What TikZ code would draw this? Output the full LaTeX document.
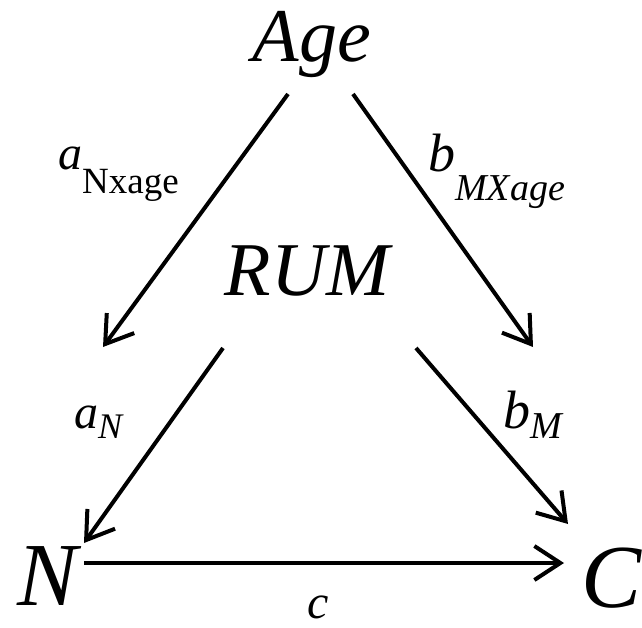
\documentclass[tikz,border=0pt]{standalone}
\usepackage{fontspec}
\newfontfamily\fa{Liberation Serif}
\usetikzlibrary{arrows.meta}
\begin{document}
\begin{tikzpicture}[x=1pt,y=-1pt,
  conn/.style={line width=4pt,-{Straight Barb[length=26pt,width=34pt,line width=4pt]}},
  txt/.style={inner sep=0pt,anchor=base},
  lab/.style={inner sep=0pt,anchor=base west}]
\useasboundingbox (0,0) rectangle (642,628);
% main nodes
\node[txt] (age) at (312,62) {\fontsize{76pt}{76pt}\selectfont\fa\itshape Age};
\node[txt] (rum) at (307,295) {\fontsize{76pt}{76pt}\selectfont\fa\itshape RUM};
\node[txt] (n) at (48,605) {\fontsize{90pt}{90pt}\selectfont\fa\itshape N};
\node[txt] (c) at (612,607) {\fontsize{90pt}{90pt}\selectfont\fa\itshape C};
% labels
\node[lab] (lan) at (58,170) {\fontsize{48pt}{48pt}\selectfont\fa\itshape a\raisebox{-24pt}{\fontsize{37pt}{37pt}\selectfont\fa\upshape Nxage}};
\node[lab] (lbm) at (428,172) {\fontsize{54pt}{54pt}\selectfont\fa\itshape b\raisebox{-29pt}{\fontsize{38pt}{38pt}\selectfont\fa\itshape MXage}};
\node[lab] (la) at (74,428) {\fontsize{48pt}{48pt}\selectfont\fa\itshape a\raisebox{-10pt}{\fontsize{36pt}{36pt}\selectfont\fa\itshape N}};
\node[lab] (lb) at (503,428) {\fontsize{54pt}{54pt}\selectfont\fa\itshape b\raisebox{-10pt}{\fontsize{38pt}{38pt}\selectfont\fa\itshape M}};
\node[txt] (lc) at (318,618) {\fontsize{48pt}{48pt}\selectfont\fa\itshape c};
% connector end points
\coordinate (a1s) at (288,94);
\coordinate (a1e) at (103,347);
\coordinate (a2s) at (353,94);
\coordinate (a2e) at (533,347);
\coordinate (a3s) at (223,348);
\coordinate (a3e) at (84,543);
\coordinate (a4s) at (416,348);
\coordinate (a4e) at (568,524);
\coordinate (a5s) at (84,563);
\coordinate (a5e) at (564,563);
% connectors
\draw[conn] (a1s) -- (a1e);
\draw[conn] (a2s) -- (a2e);
\draw[conn] (a3s) -- (a3e);
\draw[conn] (a4s) -- (a4e);
\draw[conn] (a5s) -- (a5e);
\end{tikzpicture}
\end{document}
